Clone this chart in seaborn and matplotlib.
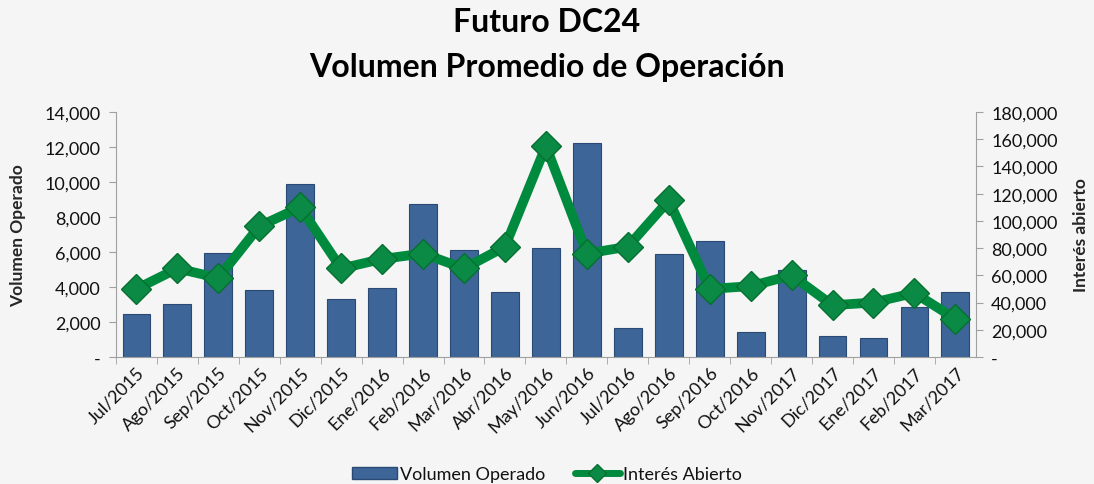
import matplotlib
matplotlib.use("Agg")
import matplotlib.pyplot as plt
import matplotlib.ticker as mticker
from matplotlib.lines import Line2D
from matplotlib.patches import Patch
import numpy as np
import pandas as pd
import seaborn as sns

# datos
meses = ["Jul/2015", "Ago/2015", "Sep/2015", "Oct/2015", "Nov/2015", "Dic/2015",
         "Ene/2016", "Feb/2016", "Mar/2016", "Abr/2016", "May/2016", "Jun/2016",
         "Jul/2016", "Ago/2016", "Sep/2016", "Oct/2016", "Nov/2017", "Dic/2017",
         "Ene/2017", "Feb/2017", "Mar/2017"]
volumen = [2450, 3000, 5950, 3800, 9900, 3300, 3950, 8750, 6100, 3700, 6250, 12250,
           1650, 5900, 6600, 1400, 4950, 1200, 1100, 2850, 3700]
interes = [50000, 65000, 58000, 96000, 110000, 65000, 72000, 76000, 65000, 81000, 155000,
           76000, 81000, 115000, 50000, 52000, 60000, 38000, 40000, 47000, 28000]

df = pd.DataFrame({"Mes": meses, "Volumen": volumen, "Interes": interes})

sns.set_style("white")
plt.rcParams['font.family'] = ['Lato', 'DejaVu Sans']
plt.rcParams['text.color'] = '#111111'
plt.rcParams['xtick.labelcolor'] = '#111111'
plt.rcParams['ytick.labelcolor'] = '#111111'

bg = "#f5f5f5"
bar_color = "#3d6597"
line_color = "#008a3e"

fig = plt.figure(figsize=(10.94, 4.85), dpi=100, facecolor=bg)
ax = fig.add_axes([0.106, 0.262, 0.786, 0.505], facecolor=bg)

sns.barplot(data=df, x="Mes", y="Volumen", color=bar_color, width=0.68,
            edgecolor="#2a4a75", linewidth=0.8, saturation=1, ax=ax)

ax2 = ax.twinx()
sns.lineplot(x=np.arange(len(meses)), y=df["Interes"], color=line_color, linewidth=7,
             marker="D", markersize=15, markerfacecolor="#0b8a45",
             markeredgecolor="#05702f", markeredgewidth=1, ax=ax2)

ax.set_ylim(0, 14000)
ax2.set_ylim(0, 180000)
ax.set_xlim(-0.5, len(meses) - 0.5)
ax.yaxis.set_major_locator(mticker.MultipleLocator(2000))
ax2.yaxis.set_major_locator(mticker.MultipleLocator(20000))

fmt = mticker.FuncFormatter(lambda v, p: "-" if v == 0 else f"{v:,.0f}")
ax.yaxis.set_major_formatter(fmt)
ax2.yaxis.set_major_formatter(fmt)

for a in (ax, ax2):
    a.spines["top"].set_visible(False)
    a.spines["left"].set_color("#a0a0a0")
    a.spines["right"].set_color("#a0a0a0")
    a.spines["bottom"].set_color("#a0a0a0")
ax.spines["right"].set_visible(False)
ax2.spines["left"].set_visible(False)
ax2.spines["bottom"].set_visible(False)

ax.tick_params(axis="y", labelsize=13, length=5, color="#a0a0a0", direction="out", left=True, pad=6)
ax2.tick_params(axis="y", labelsize=13, length=5, color="#a0a0a0", direction="out", right=True, pad=6)
ax.set_xticks(np.arange(len(meses)) - 0.5, minor=True)
ax.tick_params(axis="x", which="minor", length=5, color="#a0a0a0", bottom=True)
ax.tick_params(axis="x", which="major", length=0, labelsize=13, pad=5)
ax.set_xticks(np.arange(len(meses)))
ax.set_xticklabels(meses, rotation=45, ha="right", rotation_mode="anchor")

ax.set_xlabel("")
ax.set_ylabel("Volumen Operado", fontsize=12.5, fontweight="bold")
ax2.set_ylabel("Interés abierto", fontsize=12.5, fontweight="bold", rotation=90)
ax.yaxis.set_label_coords(-0.105, 0.5)
ax2.yaxis.set_label_coords(1.113, 0.5)

fig.text(0.5, 1 - 22 / 485, "Futuro DC24", ha="center", va="center",
         fontsize=23, fontweight="bold", color="black")
fig.text(0.5, 1 - 68 / 485, "Volumen Promedio de Operación", ha="center", va="center",
         fontsize=23, fontweight="bold", color="black")

handles = [Patch(facecolor=bar_color, edgecolor="#2a4a75"),
           Line2D([0], [0], color=line_color, linewidth=5, marker="D", markersize=9,
                  markerfacecolor="#0b8a45", markeredgecolor="#05702f")]
fig.legend(handles, ["Volumen Operado", "Interés Abierto"], loc="lower center",
           bbox_to_anchor=(0.5, -0.03), ncol=2, frameon=False, fontsize=13,
           handlelength=2.5, handletextpad=0.2, columnspacing=1.6)

fig.savefig("out.png", dpi=100, facecolor=bg)
